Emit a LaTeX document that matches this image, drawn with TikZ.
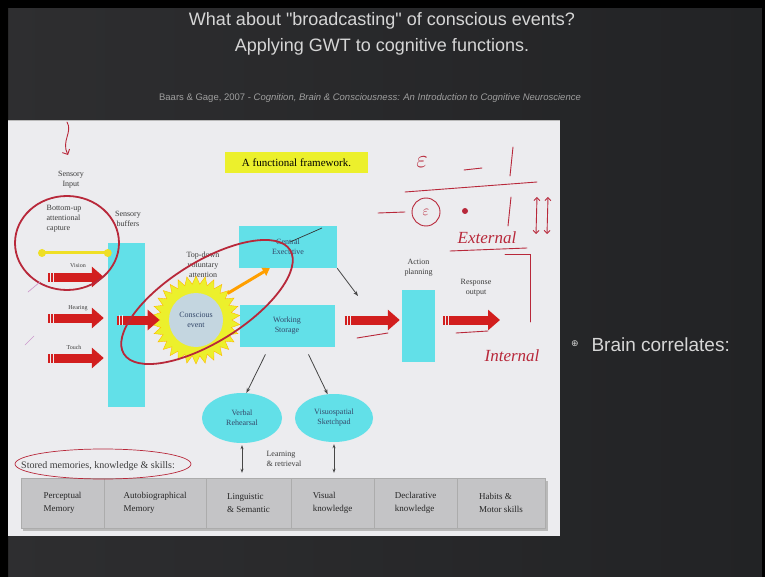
\documentclass[tikz,border=0pt]{standalone}
\usepackage{fontspec}
\setmainfont{Liberation Serif}
\newfontfamily\slidefont{Liberation Sans}
\newfontfamily\symfont{DejaVu Sans}
\usepackage{tikz}
\usetikzlibrary{arrows.meta,positioning,shapes.geometric}

\definecolor{slidebg}{HTML}{3C3C3E}
\definecolor{slideleft}{HTML}{2E2E30}
\definecolor{slidedark}{HTML}{222325}
\definecolor{panelbg}{HTML}{ECECEF}
\definecolor{boxcyan}{HTML}{62E0E8}
\definecolor{arrowred}{HTML}{D21E1E}
\definecolor{sunyellow}{HTML}{ECF02C}
\definecolor{ceblue}{HTML}{C4D6E0}
\definecolor{memgray}{HTML}{C4C4C6}
\definecolor{inkred}{HTML}{B8283A}
\definecolor{titlegray}{HTML}{D6D6D6}
\definecolor{labelgray}{HTML}{3C3C3C}
\definecolor{boxtext}{HTML}{34486A}

\begin{document}
\begin{tikzpicture}[x=1pt, y=-1pt,
  lbl/.style={font=\fontsize{8}{10}\selectfont, text=labelgray, align=center, inner sep=0pt},
  small/.style={font=\fontsize{6}{7}\selectfont, text=labelgray, inner sep=0pt},
  cyanbox/.style={fill=boxcyan, inner sep=0pt, font=\fontsize{8}{10}\selectfont, text=boxtext, align=center},
  membox/.style={fill=memgray, draw=gray!65, minimum height=50, inner sep=0pt,
    font=\fontsize{9}{13}\selectfont, text=gray!30!black, align=left},
  redarr/.style={draw=arrowred, line width=9pt, -{Triangle[width=20pt,length=12pt]}},
  grayarr/.style={draw=gray!55!black, line width=0.8pt, -{Stealth[length=5pt]}},
  dblarr/.style={draw=gray!55!black, line width=0.8pt, {Stealth[length=4pt]}-{Stealth[length=4pt]}, shorten <=2pt, shorten >=5pt},
  ink/.style={draw=inkred, line width=1.8pt, line cap=round},
  thinink/.style={draw=inkred, line width=0.9pt, line cap=round},
  hand/.style={text=inkred, font=\itshape\fontsize{17}{17}\selectfont, inner sep=0pt},
]
\useasboundingbox (0,0) rectangle (765,577);
% slide
\shade[left color=slideleft, middle color=slidebg, right color=slidedark] (0,0) rectangle (765,577);
\fill[black] (0,0) rectangle (765,8) (0,0) rectangle (8,577) (762,0) rectangle (765,577);
\node[font=\slidefont\fontsize{18}{26}\selectfont, text=titlegray, align=center] (title) at (382,34)
  {What about "broadcasting" of conscious events?\\Applying GWT to cognitive functions.};
\node[font=\slidefont\fontsize{9.5}{11}\selectfont, text=gray!75] (cite) at (370,98)
  {Baars \& Gage, 2007 - \textit{Cognition, Brain \& Consciousness: An Introduction to Cognitive Neuroscience}};
\node[font=\symfont\fontsize{9}{9}\selectfont, text=titlegray] (bul) at (575,344) {⊕};
\node[anchor=west, font=\slidefont\fontsize{19}{22}\selectfont, text=titlegray] (brain) at (588,345) {Brain correlates:};

% figure panel
\fill[panelbg] (8,120) rectangle (560,536);
\draw[gray!55, line width=1pt] (8,120.5) -- (560,120.5);
\node[fill=sunyellow, minimum width=143, minimum height=21, inner sep=0pt, font=\fontsize{11}{12}\selectfont] (frame) at (296.5,162.5) {A functional framework.};

\node[lbl] (sensin) at (71,180) {Sensory\\Input};
\node[lbl, align=left] (bottomup) at (64,219) {Bottom-up\\attentional\\capture};
\node[lbl] (sensbuf) at (128,219) {Sensory\\buffers};
\node[small] (vis) at (78,266) {Vision};
\node[small] (hear) at (78,308) {Hearing};
\node[small] (touch) at (74,347) {Touch};

\node[cyanbox, minimum width=37, minimum height=164] (buf) at (126.5,325) {};
\node[cyanbox, minimum width=98, minimum height=42] (ceb) at (288,247) {Central\\Executive};
\node[cyanbox, minimum width=95, minimum height=42] (wsb) at (287,326) {Working\\Storage};
\node[cyanbox, minimum width=33, minimum height=72] (act) at (418.5,326) {};
\node[lbl, above=13pt of act] (actlbl) {Action\\planning};
\node[lbl] (resp) at (476,288) {Response\\output};
\node[cyanbox, ellipse, minimum width=80, minimum height=50] (vr) at (242,418) {Verbal\\Rehearsal};
\node[cyanbox, ellipse, minimum width=78, minimum height=48] (vs) at (334,418) {Visuospatial\\Sketchpad};
\node[lbl] (topdown) at (203,265) {Top-down\\voluntary\\attention};

\node[star, star points=30, star point height=8pt, minimum size=88pt, inner sep=0pt,
  fill=sunyellow, draw=orange!55!yellow, line width=0.4pt] (sun) at (196,320) {};
\node[circle, fill=ceblue, minimum size=54pt, inner sep=0pt, align=center,
  font=\fontsize{8}{10}\selectfont, text=boxtext] (ce) at (sun) {Conscious\\event};

% capture bar
\coordinate (capA) at (42,253);
\draw[draw=sunyellow!85!orange, line width=3pt] (capA) -- (buf.west |- capA);
\fill[sunyellow!85!orange] (capA) circle (4) (buf.west |- capA) circle (4);

% red arrows
\coordinate (visA) at (48,277);
\coordinate (hearA) at (48,318);
\coordinate (touchA) at (48,358);
\coordinate (bufA) at (117,320);
\coordinate (wsA) at ([xshift=10pt]wsb.east |- sun);
\coordinate (actA) at ([xshift=8pt]act.east |- sun);
\coordinate (outB) at (500,320);
\draw[redarr] (visA) -- ([xshift=-4pt]buf.west |- visA);
\draw[redarr] (hearA) -- ([xshift=-4pt]buf.west |- hearA);
\draw[redarr] (touchA) -- ([xshift=-4pt]buf.west |- touchA);
\draw[redarr] (bufA) -- (sun.west);
\draw[redarr] (wsA) -- ([xshift=-2pt]act.west |- wsA);
\draw[redarr] (actA) -- (outB);
\foreach \a in {visA,hearA,touchA,bufA,wsA,actA}
  \draw[panelbg, line width=1pt] ([xshift=2.5pt,yshift=-5pt]\a) -- ([xshift=2.5pt,yshift=5pt]\a)
    ([xshift=5.5pt,yshift=-5pt]\a) -- ([xshift=5.5pt,yshift=5pt]\a);

% other connectors
\draw[draw=orange!75!yellow, line width=3pt, -{Triangle[width=9pt,length=7pt]}] (sun.40) -- ([xshift=31pt]ceb.south west);
\coordinate (ceTo) at (358,296);
\draw[grayarr] (ceb.south east) -- (ceTo);
\draw[grayarr, shorten <=8pt] ([xshift=-18pt]wsb.south) -- (vr.80);
\draw[grayarr, shorten <=8pt] ([xshift=18pt]wsb.south) -- (vs.105);

% stored memories
\node[lbl, anchor=west, font=\fontsize{10}{11}\selectfont] (stored) at (21,466) {Stored memories, knowledge \& skills:};
\node[lbl, align=left] (learn) at (284,459) {Learning\\\& retrieval};
\fill[gray!55] (23,481) rectangle (548,531);
\foreach \n/\l/\r/\t in {1/21/104/{Perceptual\\Memory}, 2/104/206/{Autobiographical\\Memory},
    3/206/291/{Linguistic\\\& Semantic}, 4/291/374/{Visual\\knowledge},
    5/374/457/{Declarative\\knowledge}, 6/457/545/{Habits \&\\Motor skills}}
  \node[membox, minimum width=\r-\l] (m\n) at ({(\l+\r)/2},503) {\t};
\draw[dblarr] (vr.south) -- (vr.south |- m3.north);
\draw[dblarr] (vs.south) -- (vs.south |- m4.north);

% hand-written notes
\draw[thinink, -{Straight Barb[length=4pt]}] (67,122) .. controls (73,132) and (61,141) .. (68,155);
\draw[ink] (67,243) ellipse [x radius=52, y radius=47];
\draw[ink] (207,302) ellipse [x radius=98, y radius=40, rotate=32];
\draw[thinink, line width=0.7pt] (103,464) ellipse [x radius=88, y radius=15];
\draw[gray!40!black, line width=0.7pt] (290,242) -- (322,228);
\draw[thinink, draw=violet!40, line width=0.7pt] (28,292) -- (40,282) (25,345) -- (34,336);
\draw[thinink] (357,338) -- (388,333) (456,333) -- (488,331);
\node[hand, font=\fontsize{24}{24}\selectfont] (eps1) at (422,162) {$\varepsilon$};
\draw[thinink] (464,170) -- (482,168);
\draw[thinink] (513,147) -- (510,176);
\draw[thinink] (405,192) -- (537,182);
\draw[thinink] (378,213) -- (405,212);
\draw[thinink] (426,212) circle (14);
\node[hand, font=\fontsize{14}{14}\selectfont] (eps2) at (426,212) {$\varepsilon$};
\fill[inkred] (465,211) circle (3);
\draw[thinink] (511,197) -- (508,226);
\draw[thinink, {Straight Barb[length=3pt]}-{Straight Barb[length=3pt]}] (537,197) -- (536,234);
\draw[thinink, {Straight Barb[length=3pt]}-{Straight Barb[length=3pt]}] (548,197) -- (547,234);
\node[hand] (ext) at (487,238) {External};
\draw[thinink] (450,251) -- (527,248);
\draw[thinink] (505,254) -- (530,254) -- (530,322);
\node[hand] (int) at (512,356) {Internal};
\end{tikzpicture}
\end{document}
